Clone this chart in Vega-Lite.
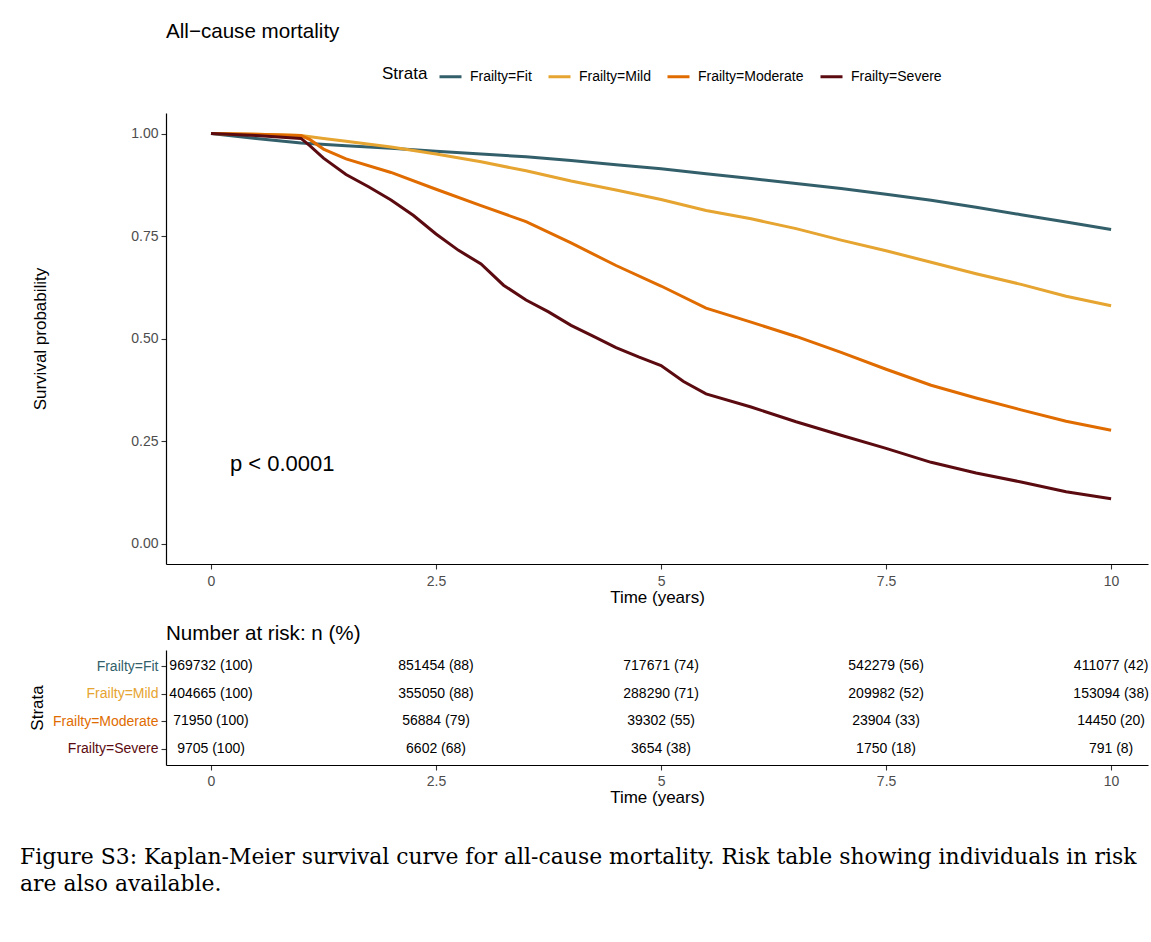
{
  "$schema": "https://vega.github.io/schema/vega-lite/v6.json",
  "background": "white",
  "padding": {"left": 20, "top": 22, "right": 0, "bottom": 5},
  "config": {
    "font": "Liberation Sans",
    "view": {"stroke": null},
    "axis": {"grid": false, "domainColor": "black", "domainWidth": 1.2, "tickColor": "#333333", "tickSize": 5, "tickWidth": 1.1, "labelColor": "#4D4D4D", "labelFontSize": 14, "titleFontSize": 17, "titleFontWeight": "normal", "titleColor": "black", "labelFont": "Liberation Sans", "titleFont": "Liberation Sans", "labelPadding": 3},
    "title": {"font": "Liberation Sans", "fontWeight": "normal", "fontSize": 20.6, "anchor": "start", "color": "black"},
    "concat": {"spacing": 18}
  },
  "datasets": {
    "surv": [
      {"strata": "Frailty=Fit", "time": 0, "surv": 1.0},
      {"strata": "Frailty=Fit", "time": 0.5, "surv": 0.988},
      {"strata": "Frailty=Fit", "time": 1.0, "surv": 0.977},
      {"strata": "Frailty=Fit", "time": 1.5, "surv": 0.97},
      {"strata": "Frailty=Fit", "time": 2.0, "surv": 0.964},
      {"strata": "Frailty=Fit", "time": 2.5, "surv": 0.957},
      {"strata": "Frailty=Fit", "time": 3.0, "surv": 0.95},
      {"strata": "Frailty=Fit", "time": 3.5, "surv": 0.943},
      {"strata": "Frailty=Fit", "time": 4.0, "surv": 0.934},
      {"strata": "Frailty=Fit", "time": 4.5, "surv": 0.924},
      {"strata": "Frailty=Fit", "time": 5.0, "surv": 0.914},
      {"strata": "Frailty=Fit", "time": 5.5, "surv": 0.902},
      {"strata": "Frailty=Fit", "time": 6.0, "surv": 0.89},
      {"strata": "Frailty=Fit", "time": 6.5, "surv": 0.878},
      {"strata": "Frailty=Fit", "time": 7.0, "surv": 0.866},
      {"strata": "Frailty=Fit", "time": 7.5, "surv": 0.852},
      {"strata": "Frailty=Fit", "time": 8.0, "surv": 0.837},
      {"strata": "Frailty=Fit", "time": 8.5, "surv": 0.82},
      {"strata": "Frailty=Fit", "time": 9.0, "surv": 0.802},
      {"strata": "Frailty=Fit", "time": 9.5, "surv": 0.784},
      {"strata": "Frailty=Fit", "time": 10.0, "surv": 0.766},
      {"strata": "Frailty=Mild", "time": 0, "surv": 1.0},
      {"strata": "Frailty=Mild", "time": 0.5, "surv": 0.998},
      {"strata": "Frailty=Mild", "time": 1.0, "surv": 0.995},
      {"strata": "Frailty=Mild", "time": 1.25, "surv": 0.988},
      {"strata": "Frailty=Mild", "time": 1.5, "surv": 0.981},
      {"strata": "Frailty=Mild", "time": 2.0, "surv": 0.967},
      {"strata": "Frailty=Mild", "time": 2.5, "surv": 0.95},
      {"strata": "Frailty=Mild", "time": 3.0, "surv": 0.931},
      {"strata": "Frailty=Mild", "time": 3.5, "surv": 0.909},
      {"strata": "Frailty=Mild", "time": 4.0, "surv": 0.884},
      {"strata": "Frailty=Mild", "time": 4.5, "surv": 0.862},
      {"strata": "Frailty=Mild", "time": 5.0, "surv": 0.839},
      {"strata": "Frailty=Mild", "time": 5.5, "surv": 0.812},
      {"strata": "Frailty=Mild", "time": 6.0, "surv": 0.792},
      {"strata": "Frailty=Mild", "time": 6.5, "surv": 0.768},
      {"strata": "Frailty=Mild", "time": 7.0, "surv": 0.74},
      {"strata": "Frailty=Mild", "time": 7.5, "surv": 0.714},
      {"strata": "Frailty=Mild", "time": 8.0, "surv": 0.686},
      {"strata": "Frailty=Mild", "time": 8.5, "surv": 0.658},
      {"strata": "Frailty=Mild", "time": 9.0, "surv": 0.632},
      {"strata": "Frailty=Mild", "time": 9.5, "surv": 0.603},
      {"strata": "Frailty=Mild", "time": 10.0, "surv": 0.58},
      {"strata": "Frailty=Moderate", "time": 0, "surv": 1.0},
      {"strata": "Frailty=Moderate", "time": 0.5, "surv": 0.998},
      {"strata": "Frailty=Moderate", "time": 1.0, "surv": 0.995},
      {"strata": "Frailty=Moderate", "time": 1.1, "surv": 0.985},
      {"strata": "Frailty=Moderate", "time": 1.25, "surv": 0.962},
      {"strata": "Frailty=Moderate", "time": 1.5, "surv": 0.938},
      {"strata": "Frailty=Moderate", "time": 2.0, "surv": 0.905},
      {"strata": "Frailty=Moderate", "time": 2.5, "surv": 0.864},
      {"strata": "Frailty=Moderate", "time": 3.0, "surv": 0.824},
      {"strata": "Frailty=Moderate", "time": 3.5, "surv": 0.785},
      {"strata": "Frailty=Moderate", "time": 4.0, "surv": 0.733},
      {"strata": "Frailty=Moderate", "time": 4.5, "surv": 0.678},
      {"strata": "Frailty=Moderate", "time": 5.0, "surv": 0.628},
      {"strata": "Frailty=Moderate", "time": 5.5, "surv": 0.574},
      {"strata": "Frailty=Moderate", "time": 6.0, "surv": 0.54},
      {"strata": "Frailty=Moderate", "time": 6.5, "surv": 0.505},
      {"strata": "Frailty=Moderate", "time": 7.0, "surv": 0.466},
      {"strata": "Frailty=Moderate", "time": 7.5, "surv": 0.425},
      {"strata": "Frailty=Moderate", "time": 8.0, "surv": 0.386},
      {"strata": "Frailty=Moderate", "time": 8.5, "surv": 0.355},
      {"strata": "Frailty=Moderate", "time": 9.0, "surv": 0.326},
      {"strata": "Frailty=Moderate", "time": 9.5, "surv": 0.298},
      {"strata": "Frailty=Moderate", "time": 10.0, "surv": 0.276},
      {"strata": "Frailty=Severe", "time": 0, "surv": 1.0},
      {"strata": "Frailty=Severe", "time": 0.5, "surv": 0.995},
      {"strata": "Frailty=Severe", "time": 1.0, "surv": 0.988},
      {"strata": "Frailty=Severe", "time": 1.1, "surv": 0.97},
      {"strata": "Frailty=Severe", "time": 1.25, "surv": 0.94},
      {"strata": "Frailty=Severe", "time": 1.5, "surv": 0.9},
      {"strata": "Frailty=Severe", "time": 1.75, "surv": 0.87},
      {"strata": "Frailty=Severe", "time": 2.0, "surv": 0.838},
      {"strata": "Frailty=Severe", "time": 2.25, "surv": 0.8},
      {"strata": "Frailty=Severe", "time": 2.5, "surv": 0.755},
      {"strata": "Frailty=Severe", "time": 2.75, "surv": 0.715},
      {"strata": "Frailty=Severe", "time": 3.0, "surv": 0.682},
      {"strata": "Frailty=Severe", "time": 3.25, "surv": 0.63},
      {"strata": "Frailty=Severe", "time": 3.5, "surv": 0.594},
      {"strata": "Frailty=Severe", "time": 3.75, "surv": 0.565},
      {"strata": "Frailty=Severe", "time": 4.0, "surv": 0.532},
      {"strata": "Frailty=Severe", "time": 4.25, "surv": 0.505},
      {"strata": "Frailty=Severe", "time": 4.5, "surv": 0.478},
      {"strata": "Frailty=Severe", "time": 4.75, "surv": 0.455},
      {"strata": "Frailty=Severe", "time": 5.0, "surv": 0.434},
      {"strata": "Frailty=Severe", "time": 5.25, "surv": 0.395},
      {"strata": "Frailty=Severe", "time": 5.5, "surv": 0.365},
      {"strata": "Frailty=Severe", "time": 6.0, "surv": 0.333},
      {"strata": "Frailty=Severe", "time": 6.5, "surv": 0.297},
      {"strata": "Frailty=Severe", "time": 7.0, "surv": 0.264},
      {"strata": "Frailty=Severe", "time": 7.5, "surv": 0.232},
      {"strata": "Frailty=Severe", "time": 8.0, "surv": 0.198},
      {"strata": "Frailty=Severe", "time": 8.5, "surv": 0.172},
      {"strata": "Frailty=Severe", "time": 9.0, "surv": 0.15},
      {"strata": "Frailty=Severe", "time": 9.5, "surv": 0.126},
      {"strata": "Frailty=Severe", "time": 10.0, "surv": 0.109}
    ],
    "risk": [
      {"strata": "Frailty=Fit", "time": 0, "label": "969732 (100)"},
      {"strata": "Frailty=Fit", "time": 2.5, "label": "851454 (88)"},
      {"strata": "Frailty=Fit", "time": 5, "label": "717671 (74)"},
      {"strata": "Frailty=Fit", "time": 7.5, "label": "542279 (56)"},
      {"strata": "Frailty=Fit", "time": 10, "label": "411077 (42)"},
      {"strata": "Frailty=Mild", "time": 0, "label": "404665 (100)"},
      {"strata": "Frailty=Mild", "time": 2.5, "label": "355050 (88)"},
      {"strata": "Frailty=Mild", "time": 5, "label": "288290 (71)"},
      {"strata": "Frailty=Mild", "time": 7.5, "label": "209982 (52)"},
      {"strata": "Frailty=Mild", "time": 10, "label": "153094 (38)"},
      {"strata": "Frailty=Moderate", "time": 0, "label": "71950 (100)"},
      {"strata": "Frailty=Moderate", "time": 2.5, "label": "56884 (79)"},
      {"strata": "Frailty=Moderate", "time": 5, "label": "39302 (55)"},
      {"strata": "Frailty=Moderate", "time": 7.5, "label": "23904 (33)"},
      {"strata": "Frailty=Moderate", "time": 10, "label": "14450 (20)"},
      {"strata": "Frailty=Severe", "time": 0, "label": "9705 (100)"},
      {"strata": "Frailty=Severe", "time": 2.5, "label": "6602 (68)"},
      {"strata": "Frailty=Severe", "time": 5, "label": "3654 (38)"},
      {"strata": "Frailty=Severe", "time": 7.5, "label": "1750 (18)"},
      {"strata": "Frailty=Severe", "time": 10, "label": "791 (8)"}
    ]
  },
  "title": {
    "text": ["Figure S3: Kaplan-Meier survival curve for all-cause mortality. Risk table showing individuals in risk", "are also available."],
    "orient": "bottom",
    "anchor": "start",
    "frame": "bounds",
    "font": "DejaVu Serif",
    "fontSize": 21.9,
    "lineHeight": 27,
    "offset": 41,
    "dx": -8
  },
  "vconcat": [
    {
      "width": 982,
      "height": 451,
      "title": {"text": "All−cause mortality", "frame": "group", "offset": 70},
      "layer": [
        {
          "data": {"name": "surv"},
          "mark": {"type": "line", "strokeWidth": 3},
          "encoding": {
            "x": {"field": "time", "type": "quantitative", "scale": {"domain": [-0.5, 10.41], "nice": false, "zero": false}, "axis": {"values": [0, 2.5, 5, 7.5, 10], "format": ".1~f", "title": "Time (years)", "labelPadding": 5, "titlePadding": 1.5}},
            "y": {"field": "surv", "type": "quantitative", "scale": {"domain": [-0.05, 1.05], "nice": false, "zero": false}, "axis": {"values": [0, 0.25, 0.5, 0.75, 1], "format": ".2f", "title": "Survival probability", "titlePadding": 81}},
            "color": {
              "field": "strata", "type": "nominal",
              "scale": {"domain": ["Frailty=Fit", "Frailty=Mild", "Frailty=Moderate", "Frailty=Severe"], "range": ["#335F6B", "#E6A430", "#E06C00", "#5B0B10"]},
              "legend": {"orient": "none", "legendX": 216, "legendY": -49, "direction": "horizontal", "title": "Strata", "titleOrient": "left", "titleFontSize": 17, "titleFontWeight": "normal", "titleColor": "black", "titlePadding": 10, "labelFontSize": 14, "labelColor": "black", "symbolType": "stroke", "symbolStrokeWidth": 3, "symbolSize": 484, "labelOffset": 7, "columnPadding": 10}
            }
          }
        },
        {
          "data": {"values": [{"x": 0.21, "y": 0.195, "label": "p < 0.0001"}]},
          "mark": {"type": "text", "align": "left", "baseline": "middle", "fontSize": 22, "color": "black"},
          "encoding": {
            "x": {"field": "x", "type": "quantitative"},
            "y": {"field": "y", "type": "quantitative"},
            "text": {"field": "label"}
          }
        }
      ]
    },
    {
      "width": 982,
      "height": 115,
      "title": {"text": "Number at risk: n (%)", "frame": "group", "offset": 5},
      "data": {"name": "risk"},
      "mark": {"type": "text", "fontSize": 14, "color": "black"},
      "encoding": {
        "x": {"field": "time", "type": "quantitative", "scale": {"domain": [-0.5, 10.41], "nice": false, "zero": false}, "axis": {"values": [0, 2.5, 5, 7.5, 10], "format": ".1~f", "title": "Time (years)", "labelPadding": 4, "titlePadding": 1.5}},
        "y": {
          "field": "strata", "type": "ordinal",
          "sort": ["Frailty=Fit", "Frailty=Mild", "Frailty=Moderate", "Frailty=Severe"],
          "scale": {"type": "point", "padding": 0.6},
          "axis": {"title": "Strata", "titlePadding": 6.5, "labelFontSize": 14,
            "labelColor": {"condition": [
              {"test": "datum.value === 'Frailty=Fit'", "value": "#335F6B"},
              {"test": "datum.value === 'Frailty=Mild'", "value": "#E6A430"},
              {"test": "datum.value === 'Frailty=Moderate'", "value": "#E06C00"}
            ], "value": "#5B0B10"}}
        },
        "text": {"field": "label"}
      }
    }
  ]
}
